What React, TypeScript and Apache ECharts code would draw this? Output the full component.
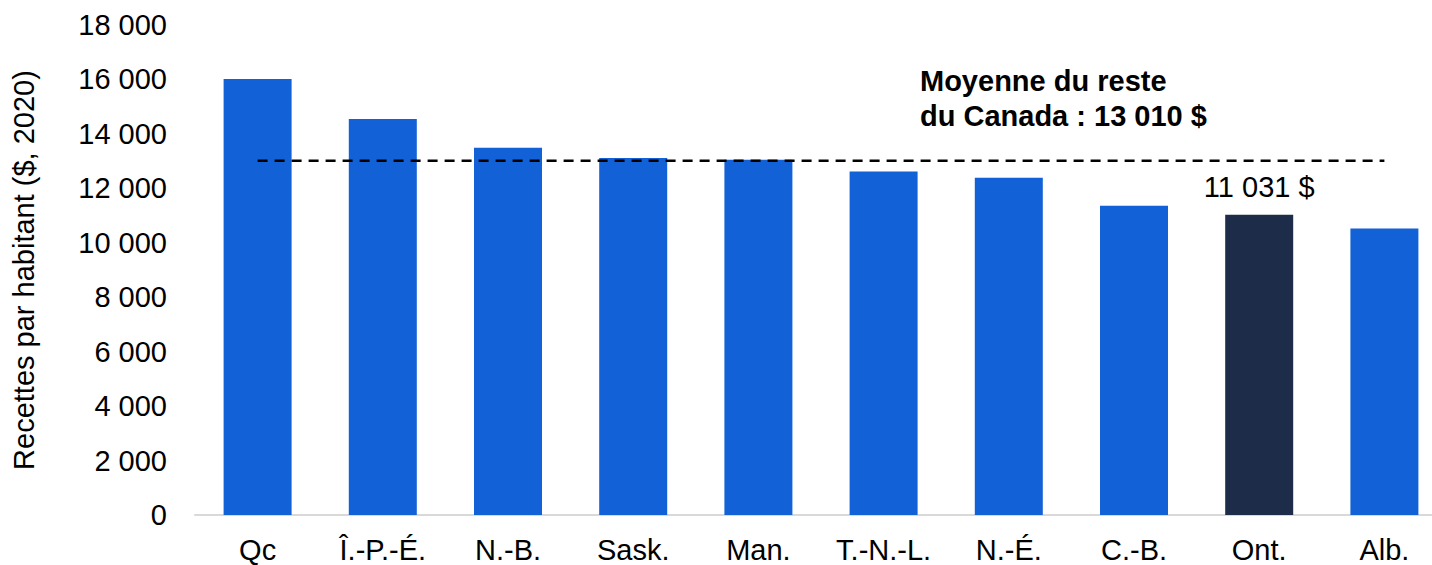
import React, { useEffect, useRef } from "react";
import * as echarts from "echarts";

const categories = ["Qc", "Î.-P.-É.", "N.-B.", "Sask.", "Man.", "T.-N.-L.", "N.-É.", "C.-B.", "Ont.", "Alb."];
const revenues = [16020, 14550, 13490, 13110, 13050, 12620, 12390, 11360, 11031, 10520];
const highlighted = "Ont.";
const averageRestOfCanada = 13010;
const yTicks = { min: 0, max: 18000, interval: 2000 };
const yAxisTitle = "Recettes par habitant ($, 2020)";
const annotationLines = ["Moyenne du reste", "du Canada : 13 010 $"];

const BLUE = "#1261d6";
const DARK = "#1d2c49";
const FONT = "'Liberation Sans', Arial, sans-serif";
const FS = 29;

const fmt = (v: number) => String(v).replace(/\B(?=(\d{3})+(?!\d))/g, " ");

export default function App() {
  const ref = useRef<HTMLDivElement>(null);
  useEffect(() => {
    if (!ref.current) return;
    const chart = echarts.init(ref.current, undefined, { renderer: "svg" });
    chart.setOption({
      animation: false,
      textStyle: { fontFamily: FONT },
      grid: { left: 195, right: -15, top: 25, bottom: 50, containLabel: false, outerBoundsMode: "none" },
      xAxis: {
        type: "category",
        data: categories,
        axisLine: { show: true, lineStyle: { color: "#d9d9d9", width: 2 } },
        axisTick: { show: false },
        axisLabel: { color: "#000", fontSize: FS, fontFamily: FONT, margin: 20, interval: 0 },
      },
      yAxis: {
        type: "value",
        min: yTicks.min,
        max: yTicks.max,
        interval: yTicks.interval,
        name: yAxisTitle,
        nameLocation: "middle",
        nameGap: 157,
        nameRotate: 90,
        nameTextStyle: { color: "#000", fontSize: FS, fontFamily: FONT },
        axisLine: { show: false },
        axisTick: { show: false },
        splitLine: { show: false },
        axisLabel: { color: "#000", fontSize: FS, fontFamily: FONT, margin: 28, formatter: (v: number) => fmt(v) },
      },
      series: [
        {
          type: "bar",
          barWidth: 68,
          data: categories.map((c, i) => ({
            value: revenues[i],
            itemStyle: { color: c === highlighted ? DARK : BLUE },
            label:
              c === highlighted
                ? {
                    show: true,
                    position: "top",
                    distance: 13,
                    color: "#000",
                    fontSize: FS,
                    fontFamily: FONT,
                    formatter: (p: any) => fmt(p.value) + " $",
                  }
                : { show: false },
          })),
        },
        {
          type: "line",
          data: categories.map(() => averageRestOfCanada),
          symbol: "none",
          lineStyle: { color: "#000", width: 2.5, type: [10, 7] },
          z: 5,
        },
      ],
      graphic: [
        {
          type: "text",
          left: 920,
          top: 63,
          style: {
            text: annotationLines.join("\n"),
            fontSize: FS,
            fontWeight: "bold",
            fontFamily: FONT,
            lineHeight: 35,
            fill: "#000",
          },
        },
      ],
    });
    return () => chart.dispose();
  }, []);
  return (
    <div
      ref={ref}
      style={{ position: "fixed", left: 0, top: 0, width: 1432, height: 565, background: "#fff" }}
    />
  );
}
